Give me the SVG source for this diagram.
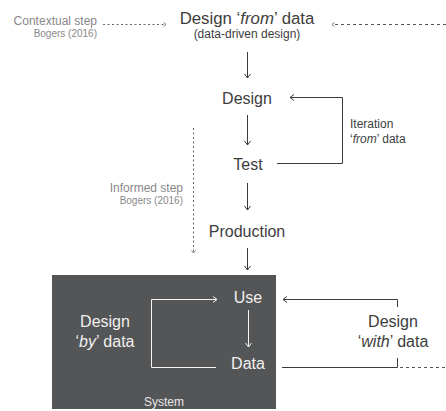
<svg xmlns="http://www.w3.org/2000/svg" width="446" height="411" viewBox="0 0 446 411">
<style>
text{font-family:"Liberation Sans",Arial,sans-serif;}
.main{font-size:16px;fill:#3d3d3d;}
.title{font-size:16.8px;fill:#3d3d3d;}
.sub{font-size:12px;fill:#3d3d3d;}
.note{font-size:12px;fill:#888;}
.small{font-size:10px;fill:#888;}
.wmain{font-size:16px;fill:#f0f0f0;}
.wsmall{font-size:12px;fill:#e8e8e8;}
.ln{fill:none;stroke:#3a3a3a;stroke-width:1;}
.wl{fill:none;stroke:#f5f5f5;stroke-width:1;}
.dot{fill:none;stroke:#666;stroke-width:1;stroke-dasharray:2,2.5;}
.dash{fill:none;stroke:#555;stroke-width:1;stroke-dasharray:3,3;}
.it{font-style:italic;}
</style>
<defs>
<marker id="ah" viewBox="0 0 10 10" refX="9" refY="5" markerWidth="10" markerHeight="10" markerUnits="userSpaceOnUse" orient="auto">
<path d="M5,2 L9,5 L5,8" fill="none" stroke="#3a3a3a" stroke-width="1"/>
</marker>
<marker id="ahw" viewBox="0 0 10 10" refX="9" refY="5" markerWidth="10" markerHeight="10" markerUnits="userSpaceOnUse" orient="auto">
<path d="M5,2 L9,5 L5,8" fill="none" stroke="#f5f5f5" stroke-width="1"/>
</marker>
<marker id="ahg" viewBox="0 0 10 10" refX="9" refY="5" markerWidth="8" markerHeight="8" markerUnits="userSpaceOnUse" orient="auto">
<path d="M6,2.5 L9,5 L6,7.5" fill="none" stroke="#555" stroke-width="1"/>
</marker>
</defs>
<rect id="system-box" x="52" y="275" width="224" height="134" fill="#545556"/>
<g id="connectors">
<path class="dot" d="M103,24.5 H166" marker-end="url(#ahg)"/>
<path class="dash" d="M446,24.5 H332" marker-end="url(#ahg)"/>
<path class="ln" d="M247.5,52 V78" marker-end="url(#ah)"/>
<path class="ln" d="M277,163.5 H342.5 V97.5 H290" marker-end="url(#ah)"/>
<path class="ln" d="M247.5,115 V145" marker-end="url(#ah)"/>
<path class="ln" d="M247.5,183 V210" marker-end="url(#ah)"/>
<path class="ln" d="M247.5,248 V270" marker-end="url(#ah)"/>
<path class="dot" d="M193.5,128 V253" marker-end="url(#ahg)"/>
<path class="wl" d="M248.5,310 V347" marker-end="url(#ahw)"/>
<path class="wl" d="M216,367.5 H151.5 V299.5 H217" marker-end="url(#ahw)"/>
<path class="ln" d="M397.5,307 V299.5 H283" marker-end="url(#ah)"/>
<path class="ln" d="M282,367.5 H397.5 V358"/>
<path class="dash" d="M400,367.5 H446"/>
</g>
<g id="contextual-step">
<text class="note" x="97" y="25" text-anchor="end">Contextual step</text>
<text class="small" x="97" y="37" text-anchor="end">Bogers (2016)</text>
</g>
<g id="design-from-data">
<text class="title" x="247" y="24" text-anchor="middle">Design ‘<tspan class="it">from</tspan>’ data</text>
<text class="sub" x="247" y="38" text-anchor="middle">(data-driven design)</text>
</g>
<g id="design"><text class="main" x="247" y="104" text-anchor="middle">Design</text></g>
<g id="iteration">
<text class="sub" x="350" y="128">Iteration</text>
<text class="sub" x="350" y="143">‘<tspan class="it">from</tspan>’ data</text>
</g>
<g id="test"><text class="main" x="248" y="170" text-anchor="middle">Test</text></g>
<g id="informed-step">
<text class="note" x="183" y="192" text-anchor="end">Informed step</text>
<text class="small" x="183" y="204" text-anchor="end">Bogers (2016)</text>
</g>
<g id="production"><text class="main" x="247" y="237" text-anchor="middle">Production</text></g>
<g id="use"><text class="wmain" x="248" y="303" text-anchor="middle">Use</text></g>
<g id="data"><text class="wmain" x="248" y="369" text-anchor="middle">Data</text></g>
<g id="design-by-data">
<text class="wmain" x="105" y="327" text-anchor="middle">Design</text>
<text class="wmain" x="105" y="347" text-anchor="middle">‘<tspan class="it">by</tspan>’ data</text>
</g>
<g id="system"><text class="wsmall" x="164" y="406" text-anchor="middle">System</text></g>
<g id="design-with-data">
<text class="main" x="393" y="327" text-anchor="middle">Design</text>
<text class="main" x="393" y="347" text-anchor="middle">‘<tspan class="it">with</tspan>’ data</text>
</g>
</svg>
